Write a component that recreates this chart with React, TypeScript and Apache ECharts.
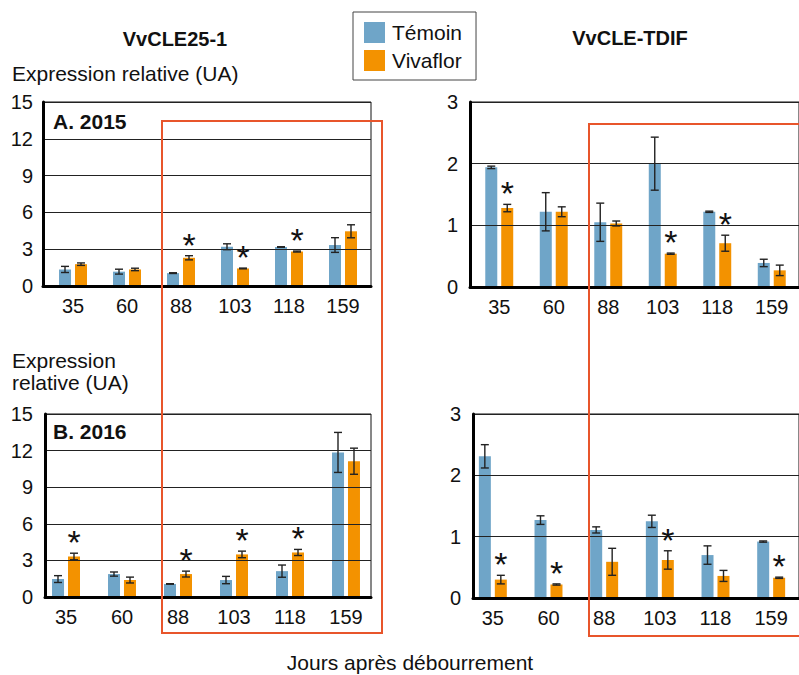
import React, { useEffect, useRef } from "react";
import * as echarts from "echarts";

const FONT = "'Liberation Sans', Arial, sans-serif";
const BLUE = "#6fa5c8";
const ORANGE = "#f39200";

const days = ["35", "60", "88", "103", "118", "159"];

// A. 2015 – VvCLE25-1
const a25Temoin = [1.35, 1.17, 1.05, 3.2, 3.18, 3.34];
const a25TemoinErr = [0.25, 0.2, 0.03, 0.24, 0.02, 0.6];
const a25Vivaflor = [1.78, 1.35, 2.3, 1.43, 2.81, 4.46];
const a25VivaflorErr = [0.1, 0.1, 0.17, 0.03, 0.04, 0.53];
const a25Signif = [0, 0, 1, 1, 1, 0];

// A. 2015 – VvCLE-TDIF
const aTdifTemoin = [1.94, 1.22, 1.05, 2.0, 1.22, 0.39];
const aTdifTemoinErr = [0.02, 0.31, 0.31, 0.43, 0.01, 0.06];
const aTdifVivaflor = [1.28, 1.22, 1.03, 0.54, 0.71, 0.27];
const aTdifVivaflorErr = [0.06, 0.08, 0.04, 0.01, 0.13, 0.085];
const aTdifSignif = [1, 0, 0, 1, 1, 0];

// B. 2016 – VvCLE25-1
const b25Temoin = [1.47, 1.88, 1.07, 1.39, 2.12, 11.85];
const b25TemoinErr = [0.28, 0.17, 0.02, 0.3, 0.5, 1.64];
const b25Vivaflor = [3.32, 1.39, 1.88, 3.49, 3.65, 11.13];
const b25VivaflorErr = [0.27, 0.24, 0.24, 0.27, 0.25, 1.07];
const b25Signif = [1, 0, 1, 1, 1, 0];

// B. 2016 – VvCLE-TDIF
const bTdifTemoin = [2.31, 1.27, 1.11, 1.25, 0.7, 0.92];
const bTdifTemoinErr = [0.19, 0.07, 0.05, 0.1, 0.15, 0.01];
const bTdifVivaflor = [0.3, 0.22, 0.59, 0.62, 0.36, 0.33];
const bTdifVivaflorErr = [0.07, 0.01, 0.22, 0.15, 0.09, 0.01];
const bTdifSignif = [1, 1, 0, 1, 0, 1];

const yMax25 = 15;
const yInt25 = 3;
const yMaxTdif = 3;
const yIntTdif = 1;

type Panel = {
  frame: { left: number; top: number; width: number; height: number };
  bars: { left: number; width: number };
  max: number;
  interval: number;
  labelMargin: number;
  temoin: number[];
  temoinErr: number[];
  vivaflor: number[];
  vivaflorErr: number[];
  signif: number[];
};

const panels: Panel[] = [
  {
    frame: { left: 43, top: 102, width: 328, height: 184 },
    bars: { left: 46, width: 324 },
    max: yMax25, interval: yInt25, labelMargin: 10,
    temoin: a25Temoin, temoinErr: a25TemoinErr,
    vivaflor: a25Vivaflor, vivaflorErr: a25VivaflorErr, signif: a25Signif,
  },
  {
    frame: { left: 470, top: 102, width: 329, height: 185 },
    bars: { left: 472, width: 329 },
    max: yMaxTdif, interval: yIntTdif, labelMargin: 12,
    temoin: aTdifTemoin, temoinErr: aTdifTemoinErr,
    vivaflor: aTdifVivaflor, vivaflorErr: aTdifVivaflorErr, signif: aTdifSignif,
  },
  {
    frame: { left: 45, top: 414, width: 326, height: 183 },
    bars: { left: 38, width: 336 },
    max: yMax25, interval: yInt25, labelMargin: 12,
    temoin: b25Temoin, temoinErr: b25TemoinErr,
    vivaflor: b25Vivaflor, vivaflorErr: b25VivaflorErr, signif: b25Signif,
  },
  {
    frame: { left: 473, top: 414, width: 326, height: 184 },
    bars: { left: 465, width: 336 },
    max: yMaxTdif, interval: yIntTdif, labelMargin: 12,
    temoin: bTdifTemoin, temoinErr: bTdifTemoinErr,
    vivaflor: bTdifVivaflor, vivaflorErr: bTdifVivaflorErr, signif: bTdifSignif,
  },
];

function errorSeries(values: number[], errs: number[], signif: number[] | null, offset: number, axisIndex: number) {
  return {
    type: "custom",
    xAxisIndex: axisIndex,
    yAxisIndex: axisIndex,
    z: 5,
    silent: true,
    clip: false,
    data: values.map((v, i) => [i, v, errs[i], signif ? signif[i] : 0]),
    renderItem: (_params: any, api: any) => {
      const i = api.value(0);
      const v = api.value(1);
      const e = api.value(2);
      const s = api.value(3);
      const c = api.coord([i, v]);
      const hi = api.coord([i, v + e]);
      const lo = api.coord([i, v - e]);
      const x = c[0] + offset;
      const st = { stroke: "#222", lineWidth: 1.4 };
      const children: any[] = [
        { type: "line", shape: { x1: x, y1: hi[1], x2: x, y2: lo[1] }, style: st },
        { type: "line", shape: { x1: x - 4, y1: hi[1], x2: x + 4, y2: hi[1] }, style: st },
        { type: "line", shape: { x1: x - 4, y1: lo[1], x2: x + 4, y2: lo[1] }, style: st },
      ];
      if (s) {
        children.push({
          type: "text",
          x,
          y: hi[1] - 11,
          style: {
            text: "*",
            fontSize: 34,
            fontFamily: FONT,
            fill: "#111",
            align: "center",
            verticalAlign: "middle",
          },
        });
      }
      return { type: "group", children };
    },
  };
}

function buildOption() {
  const grid: any[] = [];
  const xAxis: any[] = [];
  const yAxis: any[] = [];
  const series: any[] = [];

  panels.forEach((p, k) => {
    grid.push({
      left: p.frame.left,
      top: p.frame.top,
      width: p.frame.width,
      height: p.frame.height,
      show: true,
      borderColor: "#111",
      borderWidth: 1,
      backgroundColor: "transparent",
      containLabel: false,
    });
    grid.push({
      left: p.bars.left,
      top: p.frame.top,
      width: p.bars.width,
      height: p.frame.height,
      containLabel: false,
    });
    const fi = 2 * k;
    const bi = 2 * k + 1;
    xAxis.push({
      gridIndex: fi,
      type: "category",
      data: days,
      axisLabel: { show: false },
      axisTick: { show: false },
      axisLine: { show: true, lineStyle: { color: "#000", width: 3 } },
      splitLine: { show: false },
      z: 3,
    });
    yAxis.push({
      gridIndex: fi,
      type: "value",
      min: 0,
      max: p.max,
      interval: p.interval,
      axisLabel: { fontSize: 20, fontFamily: FONT, color: "#111", margin: p.labelMargin },
      axisTick: { show: false },
      axisLine: { show: true, lineStyle: { color: "#000", width: 3 } },
      splitLine: { show: true, lineStyle: { color: "#222", width: 1 } },
      z: 3,
    });
    xAxis.push({
      gridIndex: bi,
      type: "category",
      data: days,
      axisLabel: { fontSize: 20, fontFamily: FONT, color: "#111", margin: 10 },
      axisTick: { show: false },
      axisLine: { show: false },
      splitLine: { show: false },
    });
    yAxis.push({
      gridIndex: bi,
      type: "value",
      min: 0,
      max: p.max,
      interval: p.interval,
      show: false,
      splitLine: { show: false },
    });
    series.push({
      type: "bar",
      name: "Témoin",
      xAxisIndex: xAxis.length - 1,
      yAxisIndex: yAxis.length - 1,
      data: p.temoin,
      barWidth: 12,
      barGap: "33%",
      itemStyle: { color: BLUE },
      z: 2,
    });
    series.push({
      type: "bar",
      name: "Vivaflor",
      xAxisIndex: xAxis.length - 1,
      yAxisIndex: yAxis.length - 1,
      data: p.vivaflor,
      barWidth: 12,
      barGap: "33%",
      itemStyle: { color: ORANGE },
      z: 2,
    });
    series.push(errorSeries(p.temoin, p.temoinErr, null, -8, xAxis.length - 1));
    series.push(errorSeries(p.vivaflor, p.vivaflorErr, p.signif, 8, xAxis.length - 1));
  });

  const txt = (text: string, x: number, y: number, size: number, bold = false, align = "left") => ({
    type: "text",
    x,
    y,
    z: 10,
    style: {
      text,
      fontSize: size,
      fontFamily: FONT,
      fontWeight: bold ? "bold" : "normal",
      fill: "#111",
      align,
      verticalAlign: "middle",
    },
  });

  const graphic: any[] = [
    txt("VvCLE25-1", 175, 39, 20, true, "center"),
    txt("VvCLE-TDIF", 630, 38, 20, true, "center"),
    txt("Expression relative (UA)", 12, 73, 21),
    txt("Expression", 12, 360, 21),
    txt("relative (UA)", 12, 382, 21),
    txt("A. 2015", 53, 121, 21, true),
    txt("B. 2016", 53, 431, 21, true),
    txt("Jours après débourrement", 410, 662, 21, false, "center"),
    {
      type: "rect",
      z: 20,
      shape: { x: 162, y: 121, width: 220, height: 512 },
      style: { fill: "none", stroke: "#e8552b", lineWidth: 2 },
    },
    {
      type: "rect",
      z: 20,
      shape: { x: 589, y: 124, width: 230, height: 512 },
      style: { fill: "none", stroke: "#e8552b", lineWidth: 2 },
    },
  ];

  return {
    animation: false,
    backgroundColor: "#fff",
    grid,
    xAxis,
    yAxis,
    series,
    graphic,
    legend: {
      data: ["Témoin", "Vivaflor"],
      left: 353,
      top: 12,
      orient: "vertical",
      icon: "rect",
      itemWidth: 21,
      itemHeight: 21,
      itemGap: 7,
      padding: [10, 14, 9, 11],
      borderColor: "#444",
      borderWidth: 1,
      selectedMode: false,
      textStyle: { fontSize: 21, fontFamily: FONT, color: "#111", lineHeight: 21, padding: [0, 0, 0, 2] },
    },
  };
}

export default function App() {
  const ref = useRef<HTMLDivElement>(null);
  useEffect(() => {
    if (!ref.current) return;
    const chart = echarts.init(ref.current, undefined, { renderer: "svg" });
    chart.setOption(buildOption() as any);
    return () => chart.dispose();
  }, []);
  return (
    <div
      ref={ref}
      style={{ position: "absolute", left: 0, top: 0, width: 799, height: 675, background: "#fff" }}
    />
  );
}
